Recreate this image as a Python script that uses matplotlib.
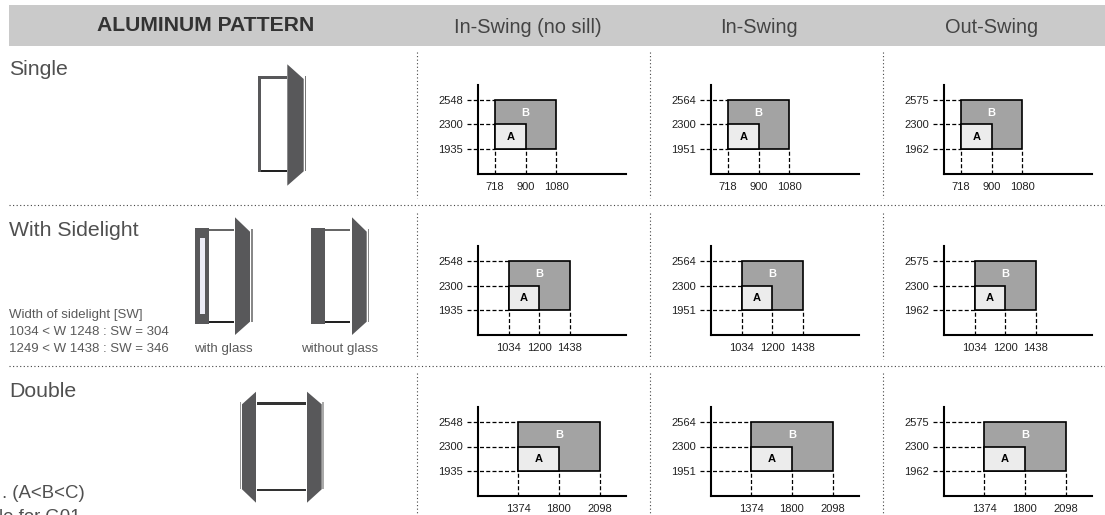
import matplotlib
matplotlib.use("Agg")
import matplotlib.pyplot as plt
from matplotlib.patches import Polygon, Rectangle

plt.rcParams['font.family'] = ['Liberation Sans', 'DejaVu Sans']

W, H = 1105, 515

headers = ["In-Swing (no sill)", "In-Swing", "Out-Swing"]
rows = ["Single", "With Sidelight", "Double"]

# tick values, x per row and y per column
x_single = [718, 900, 1080]
x_sidelight = [1034, 1200, 1438]
x_double = [1374, 1800, 2098]
y_no_sill = [1935, 2300, 2548]
y_in_swing = [1951, 2300, 2564]
y_out_swing = [1962, 2300, 2575]

x_ticks = [x_single, x_sidelight, x_double]
y_ticks = [y_no_sill, y_in_swing, y_out_swing]

sidelight_notes = ["Width of sidelight [SW]", "1034 < W 1248 : SW = 304", "1249 < W 1438 : SW = 346"]

TEXT = "#505050"
DOOR = "#58585a"

fig = plt.figure(figsize=(W / 100, H / 100), dpi=100)
bg = fig.add_axes([0, 0, 1, 1])
bg.set_xlim(0, W)
bg.set_ylim(H, 0)
bg.axis("off")


def dotted_h(y, x0=9, x1=W):
    bg.plot([x0, x1], [y, y], color="#444444", lw=0.8, linestyle=(0, (1, 2.2)))


def dotted_v(x, y0, y1):
    bg.plot([x, x], [y0, y1], color="#444444", lw=0.8, linestyle=(0, (1, 2.2)))


def box(x0, y0, x1, y1, color=DOOR):
    bg.add_patch(Rectangle((x0, y0), x1 - x0, y1 - y0, facecolor=color, edgecolor="none"))


def door(xs, y0, y1, y2, y3):
    # xs = hinge side x, free side x
    pts = [(xs[0], y0), (xs[1], y1), (xs[1], y2), (xs[0], y3)]
    bg.add_patch(Polygon(pts, closed=True, facecolor=DOOR, edgecolor="none"))


# header band
box(9, 5, W, 46, "#cacaca")
bg.text(206, 25.5, "ALUMINUM PATTERN", fontsize=15.2, fontweight="bold", color="#333333", ha="center", va="center")
for cx, label in zip([528, 759, 992], headers):
    bg.text(cx, 27.5, label, fontsize=14.4, color="#444444", ha="center", va="center")

# grid
dotted_h(205)
dotted_h(366)
for x in [416.5, 649.7, 882.7]:
    dotted_v(x, 52, 198)
    dotted_v(x, 213, 359)
    dotted_v(x, 373, 515)

# left column text
for label, y in zip(rows, [75, 236, 397]):
    bg.text(9, y, label, fontsize=15.3, color=TEXT, va="baseline")
for note, y in zip(sidelight_notes, [318, 335, 352]):
    bg.text(9, y, note, fontsize=9.5, color="#5a5a5a", va="baseline")
bg.text(223, 352, "with glass", fontsize=9.6, color="#5a5a5a", ha="center", va="baseline")
bg.text(339.7, 352, "without glass", fontsize=9.6, color="#5a5a5a", ha="center", va="baseline")
bg.text(2, 498, ". (A<B<C)", fontsize=13.4, color=TEXT, va="baseline")
bg.text(-1, 522.5, "le for G01", fontsize=13.4, color=TEXT, va="baseline")

# single door
box(258.3, 76, 261.3, 171.5)
box(258.3, 76, 286.7, 79.3)
box(261, 170.3, 286.7, 171.5, "#222222")
box(305, 76, 306.4, 171.3, "#777777")
door((287.3, 303.7), 64.3, 79, 171.3, 185.7)

# sidelight with glass
box(195, 228, 209.3, 324)
box(200, 237.7, 205, 314, "#ececf6")
box(209.3, 229, 234, 231.3, "#666666")
box(209.3, 321.3, 234, 322.6, "#222222")
box(251, 228.7, 252.7, 321.7, "#888888")
door((235, 250), 217.3, 231.7, 321.7, 335)

# sidelight without glass
box(311, 228, 325.3, 324)
box(325.3, 229, 350.3, 231.3, "#666666")
box(325.3, 321.3, 350.3, 322.6, "#222222")
box(367.7, 228.7, 369.3, 321.7, "#888888")
door((352, 366.7), 217.3, 231.7, 321.7, 335)

# double door
box(257.3, 402, 305.7, 404.7, "#333333")
box(257.3, 489, 305.7, 490.7, "#333333")
box(239.7, 402.3, 241, 489.3, "#999999")
box(322, 402.3, 323.7, 489.3, "#aaaaaa")
door((256, 242), 391.7, 404.3, 489.3, 502.7)
door((307, 321.7), 391.7, 404.3, 489.3, 502.7)

# small charts, the ticks sit on evenly spaced slots and are not to scale
col_x = [477.5, 710.5, 943.5]
row_y = [174, 335, 496]
first_x = [17.5, 31, 40.5]
step_x = [30.5, 30.5, 40.8]
AX_W, AX_H = 148.5, 89
FIRST_Y, STEP_Y = 25, 24.5
DASH = (0, (3.2, 1.8))

for r, xvals in enumerate(x_ticks):
    for c, yvals in enumerate(y_ticks):
        ax = fig.add_axes([col_x[c] / W, 1 - row_y[r] / H, AX_W / W, AX_H / H])
        ax.patch.set_alpha(0)
        xlim = (-first_x[r] / step_x[r], (AX_W - first_x[r]) / step_x[r])
        ylim = (-FIRST_Y / STEP_Y, (AX_H - FIRST_Y) / STEP_Y)
        ax.set_xlim(xlim)
        ax.set_ylim(ylim)
        xpos = range(len(xvals))
        ypos = range(len(yvals))

        ax.add_patch(Rectangle((0, 0), 2, 2, facecolor="#a3a3a3", edgecolor="black", lw=1.2, zorder=2))
        ax.add_patch(Rectangle((0, 0), 1, 1, facecolor="#ececec", edgecolor="black", lw=1.2, zorder=3))
        ax.text(1, 1.45, "B", color="white", fontsize=8, fontweight="bold", ha="center", va="center", zorder=4)
        ax.text(0.5, 0.5, "A", color="black", fontsize=8, fontweight="bold", ha="center", va="center", zorder=4)

        left_end = xlim[0] - 10.5 / step_x[r]
        for i in ypos:
            ax.plot([left_end, 0], [i, i], color="black", lw=0.9, linestyle=DASH, clip_on=False, zorder=1)
        for i in xpos:
            ax.plot([i, i], [ylim[0], 0], color="black", lw=0.9, linestyle=DASH, zorder=1)

        for side in ["top", "right"]:
            ax.spines[side].set_visible(False)
        for side in ["left", "bottom"]:
            ax.spines[side].set_linewidth(1.5)
        ax.set_xticks(list(xpos), [str(v) for v in xvals])
        ax.set_yticks(list(ypos), [str(v) for v in yvals])
        ax.tick_params(axis="x", length=0, pad=6, labelsize=8, labelcolor="#222222")
        ax.tick_params(axis="y", length=0, pad=10.2, labelsize=8, labelcolor="#222222")

fig.savefig("out.png", dpi=100)
